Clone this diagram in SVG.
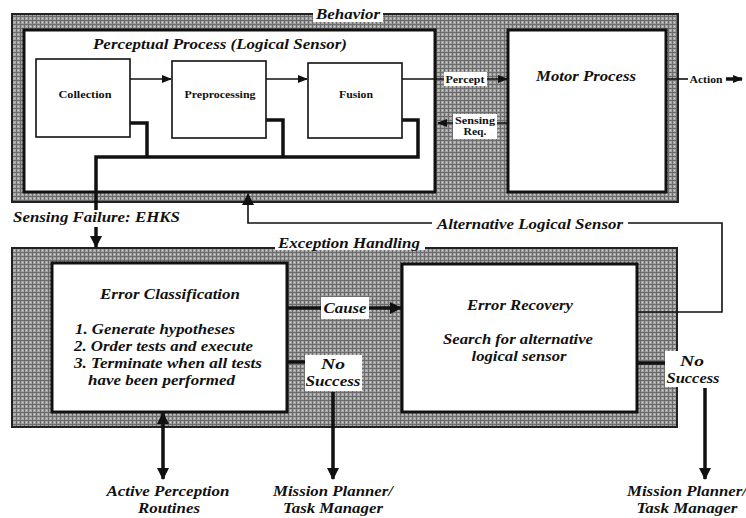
<svg xmlns="http://www.w3.org/2000/svg" width="746" height="518" viewBox="0 0 746 518">
  <style>
    .panel { fill: url(#screen); stroke: #222; stroke-width: 2; }
    .box { fill: #fff; stroke: #111; stroke-width: 3; }
    .sub { fill: #fff; stroke: #111; stroke-width: 1.6; }
    .thin { fill: none; stroke: #111; stroke-width: 1.6; }
    .thick { fill: none; stroke: #111; stroke-width: 3.5; }
    .bi { font-weight: bold; font-style: italic; fill: #111; font-size: 15px; }
    .b { font-weight: bold; fill: #111; font-size: 11px; }
    .lbl { fill: #fff; }
  </style>
  <defs>
    <pattern id="screen" width="4" height="4" patternUnits="userSpaceOnUse">
      <rect width="4" height="4" fill="#a4a4a4"/>
      <path d="M0 0.5H4M0.5 0V4" stroke="#6c6c6c" stroke-width="1"/>
      <rect x="2" y="2" width="1" height="1" fill="#d0d0d0"/>
    </pattern>
    <marker id="ah" markerWidth="10" markerHeight="8" refX="9" refY="4" orient="auto" markerUnits="userSpaceOnUse">
      <path d="M0 0L10 4L0 8z" fill="#111"/>
    </marker>
    <marker id="ahb" markerWidth="12" markerHeight="12" refX="11" refY="6" orient="auto" markerUnits="userSpaceOnUse">
      <path d="M0 0L12 6L0 12z" fill="#111"/>
    </marker>
    <marker id="ahbs" markerWidth="12" markerHeight="12" refX="1" refY="6" orient="auto" markerUnits="userSpaceOnUse">
      <path d="M12 0L0 6L12 12z" fill="#111"/>
    </marker>
  </defs>

  <g font-family="'Liberation Serif', 'DejaVu Serif', serif" lengthAdjust="spacingAndGlyphs">
  <!-- Behavior panel -->
  <g id="behavior">
    <rect class="panel" x="12" y="14" width="666" height="188"/>
    <rect class="lbl" x="313" y="6" width="70" height="16"/>
    <text class="bi" x="348" y="19" text-anchor="middle" textLength="64" lengthAdjust="spacingAndGlyphs">Behavior</text>
  </g>

  <g id="perceptual-process">
    <rect class="box" x="24" y="30" width="411" height="162"/>
    <text class="bi" x="220" y="49" text-anchor="middle" textLength="254" lengthAdjust="spacingAndGlyphs">Perceptual Process (Logical Sensor)</text>
  </g>

  <g id="collection">
    <rect class="sub" x="36" y="59" width="94" height="78"/>
    <text class="b" x="85" y="98" text-anchor="middle" textLength="53" lengthAdjust="spacingAndGlyphs">Collection</text>
  </g>
  <g id="preprocessing">
    <rect class="sub" x="172" y="61" width="94" height="77"/>
    <text class="b" x="220" y="98" text-anchor="middle" textLength="71" lengthAdjust="spacingAndGlyphs">Preprocessing</text>
  </g>
  <g id="fusion">
    <rect class="sub" x="308" y="63" width="94" height="75"/>
    <text class="b" x="356" y="98" text-anchor="middle" textLength="34" lengthAdjust="spacingAndGlyphs">Fusion</text>
  </g>

  <g id="motor-process">
    <rect class="box" x="508" y="30" width="158" height="162"/>
    <text class="bi" x="586" y="81" text-anchor="middle" textLength="100" lengthAdjust="spacingAndGlyphs">Motor Process</text>
  </g>

  <!-- Exception handling panel -->
  <g id="exception-handling">
    <rect class="panel" x="12" y="248" width="665" height="179"/>
    <rect class="lbl" x="275" y="235" width="150" height="15"/>
    <text class="bi" x="349" y="248" text-anchor="middle" textLength="142" lengthAdjust="spacingAndGlyphs">Exception Handling</text>
  </g>

  <g id="error-classification">
    <rect class="box" x="52" y="263" width="235" height="149"/>
    <text class="bi" x="170" y="299" text-anchor="middle" textLength="140" lengthAdjust="spacingAndGlyphs">Error Classification</text>
    <text class="bi" x="75" y="334" textLength="160" lengthAdjust="spacingAndGlyphs">1. Generate hypotheses</text>
    <text class="bi" x="74" y="351" textLength="179" lengthAdjust="spacingAndGlyphs">2. Order tests and execute</text>
    <text class="bi" x="74" y="368" textLength="188" lengthAdjust="spacingAndGlyphs">3. Terminate when all tests</text>
    <text class="bi" x="88" y="385" textLength="147" lengthAdjust="spacingAndGlyphs">have been performed</text>
  </g>

  <g id="error-recovery">
    <rect class="box" x="402" y="264" width="235" height="148"/>
    <text class="bi" x="520" y="310" text-anchor="middle" textLength="106" lengthAdjust="spacingAndGlyphs">Error Recovery</text>
    <text class="bi" x="518" y="344" text-anchor="middle" textLength="150" lengthAdjust="spacingAndGlyphs">Search for alternative</text>
    <text class="bi" x="519" y="361" text-anchor="middle" textLength="95" lengthAdjust="spacingAndGlyphs">logical sensor</text>
  </g>

  <!-- Connectors -->
  <g id="connectors">
    <!-- data flow inside the logical sensor -->
    <line class="thin" x1="130" y1="79" x2="171" y2="79" marker-end="url(#ah)"/>
    <line class="thin" x1="266" y1="79" x2="307" y2="79" marker-end="url(#ah)"/>

    <!-- percept to motor process -->
    <line class="thin" x1="402" y1="79" x2="507" y2="79" marker-end="url(#ah)"/>
    <rect class="lbl" x="444" y="72" width="43" height="14"/>
    <text class="b" x="465" y="83" text-anchor="middle" textLength="39" lengthAdjust="spacingAndGlyphs">Percept</text>

    <!-- sensing request back to the logical sensor -->
    <line class="thin" x1="508" y1="123" x2="438" y2="123" marker-end="url(#ah)"/>
    <rect class="lbl" x="453" y="114" width="44" height="25"/>
    <text class="b" x="475" y="124" text-anchor="middle" textLength="40" lengthAdjust="spacingAndGlyphs">Sensing</text>
    <text class="b" x="475" y="135" text-anchor="middle" textLength="23" lengthAdjust="spacingAndGlyphs">Req.</text>

    <!-- action output -->
    <line class="thin" x1="666" y1="79" x2="688" y2="79"/>
    <text class="b" x="706" y="83" text-anchor="middle" textLength="33" lengthAdjust="spacingAndGlyphs">Action</text>
    <line class="thick" x1="726" y1="79" x2="742" y2="79" stroke-width="3" marker-end="url(#ah)"/>

    <!-- sensing failure paths from each stage -->
    <polyline class="thick" points="130,123 147,123 147,157"/>
    <polyline class="thick" points="266,120 283,120 283,157"/>
    <polyline class="thick" points="402,120 418,120 418,157 96,157 96,210"/>
    <text class="bi" x="13" y="222" textLength="167" lengthAdjust="spacingAndGlyphs">Sensing Failure: EHKS</text>
    <line class="thick" x1="96" y1="227" x2="96" y2="247" marker-end="url(#ahb)"/>

    <!-- alternative logical sensor back to behavior -->
    <polyline class="thin" points="637,312 722,312 722,223 248,223 248,194" stroke-width="2.5" marker-end="url(#ahb)"/>
    <rect class="lbl" x="432" y="214" width="196" height="18"/>
    <text class="bi" x="530" y="229" text-anchor="middle" textLength="186" lengthAdjust="spacingAndGlyphs">Alternative Logical Sensor</text>

    <!-- cause -->
    <line class="thick" x1="287" y1="308" x2="401" y2="308" stroke-width="3" marker-end="url(#ahb)"/>
    <rect class="lbl" x="321" y="297" width="48" height="22"/>
    <text class="bi" x="345" y="313" text-anchor="middle" textLength="43" lengthAdjust="spacingAndGlyphs">Cause</text>

    <!-- no success from classification -->
    <line class="thick" x1="287" y1="362" x2="306" y2="362"/>
    <rect class="lbl" x="305" y="355" width="57" height="36"/>
    <text class="bi" x="333" y="369" text-anchor="middle" textLength="24" lengthAdjust="spacingAndGlyphs">No</text>
    <text class="bi" x="333" y="386" text-anchor="middle" textLength="55" lengthAdjust="spacingAndGlyphs">Success</text>
    <line class="thick" x1="333" y1="392" x2="333" y2="479" marker-end="url(#ahb)"/>
    <text class="bi" x="333" y="496" text-anchor="middle" textLength="120" lengthAdjust="spacingAndGlyphs">Mission Planner/</text>
    <text class="bi" x="333" y="513" text-anchor="middle" textLength="100" lengthAdjust="spacingAndGlyphs">Task Manager</text>

    <!-- active perception routines (two-way) -->
    <line class="thick" x1="163" y1="413" x2="163" y2="479" marker-start="url(#ahbs)" marker-end="url(#ahb)"/>
    <text class="bi" x="168" y="496" text-anchor="middle" textLength="123" lengthAdjust="spacingAndGlyphs">Active Perception</text>
    <text class="bi" x="169" y="513" text-anchor="middle" textLength="62" lengthAdjust="spacingAndGlyphs">Routines</text>

    <!-- no success from recovery -->
    <line class="thick" x1="637" y1="363" x2="666" y2="363"/>
    <rect class="lbl" x="665" y="351" width="56" height="36"/>
    <text class="bi" x="692" y="366" text-anchor="middle" textLength="24" lengthAdjust="spacingAndGlyphs">No</text>
    <text class="bi" x="693" y="383" text-anchor="middle" textLength="53" lengthAdjust="spacingAndGlyphs">Success</text>
    <line class="thick" x1="705" y1="388" x2="705" y2="479" marker-end="url(#ahb)"/>
    <text class="bi" x="687" y="496" text-anchor="middle" textLength="120" lengthAdjust="spacingAndGlyphs">Mission Planner/</text>
    <text class="bi" x="687" y="513" text-anchor="middle" textLength="101" lengthAdjust="spacingAndGlyphs">Task Manager</text>
  </g>
  </g>
</svg>
